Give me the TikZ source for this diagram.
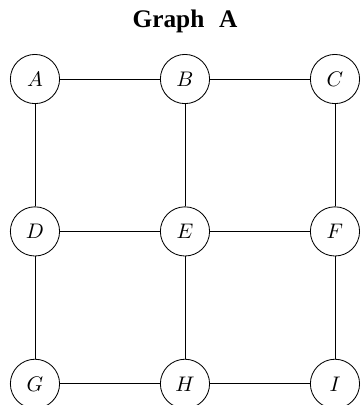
\documentclass[tikz,border=0pt]{standalone}
\usepackage{fontspec}
\newfontfamily\titlefont{Liberation Serif}
\usepackage{tikz}

\begin{document}
\begin{tikzpicture}[xscale=1, yscale=1]
%% grid graph, 3x3 vertices, edges between neighbours only
\tikzstyle{vertex}=[circle,draw,thin,minimum size=0.82cm,inner sep=0pt]
\tikzstyle{edge}=[thin]
\tikzstyle{title}=[font=\titlefont\bfseries\fontsize{12}{14}\selectfont,anchor=base]
\useasboundingbox (-0.583,1.317) rectangle (5.467,-5.433);
%% title
\node[title] at (2.5,0.855) (Title) {Graph\hspace{4pt} A};
%% vertices
\node[vertex] at (0,0) (A) {$A$};
\node[vertex] at (2.5,0) (B) {$B$};
\node[vertex] at (5,0) (C) {$C$};
\node[vertex] at (0,-2.54) (D) {$D$};
\node[vertex] at (2.5,-2.54) (E) {$E$};
\node[vertex] at (5,-2.54) (F) {$F$};
\node[vertex] at (0,-5.08) (G) {$G$};
\node[vertex] at (2.5,-5.08) (H) {$H$};
\node[vertex] at (5,-5.08) (I) {$I$};
%% horizontal edges
\draw[edge] (A) -- (B);
\draw[edge] (B) -- (C);
\draw[edge] (D) -- (E);
\draw[edge] (E) -- (F);
\draw[edge] (G) -- (H);
\draw[edge] (H) -- (I);
%% vertical edges
\draw[edge] (A) -- (D);
\draw[edge] (D) -- (G);
\draw[edge] (B) -- (E);
\draw[edge] (E) -- (H);
\draw[edge] (C) -- (F);
\draw[edge] (F) -- (I);
\end{tikzpicture}
\end{document}
